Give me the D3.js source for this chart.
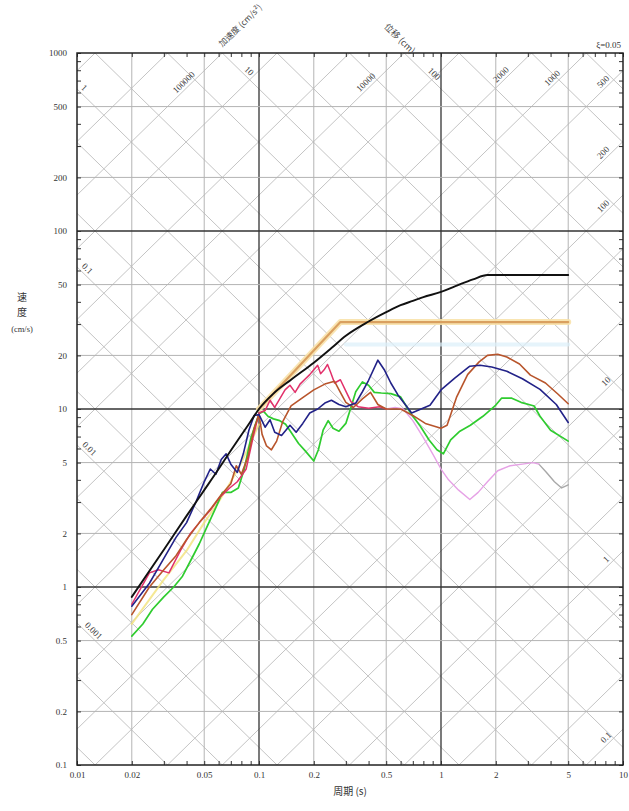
<!DOCTYPE html>
<html>
<head>
<meta charset="utf-8">
<script src="https://cdn.jsdelivr.net/npm/d3@7"></script>
<style>
  body { margin: 0; background: #fff; }
  svg { display: block; }
</style>
</head>
<body>
<svg id="chart" width="629" height="811"></svg>
<script>
// ---- axis ticks ----
const periodTicks  = [0.01, 0.02, 0.05, 0.1, 0.2, 0.5, 1, 2, 5, 10];
const periodLabels = ["0.01", "0.02", "0.05", "0.1", "0.2", "0.5", "1", "2", "5", "10"];
const velocityTicks  = [0.1, 0.2, 0.5, 1, 2, 5, 10, 20, 50, 100, 200, 500, 1000];
const velocityLabels = ["0.1", "0.2", "0.5", "1", "2", "5", "10", "20", "50", "100", "200", "500", "1000"];

// ---- tripartite guide lines ----
const accelLines = [0.1, 0.2, 0.5, 1, 2, 5, 10, 20, 50, 100, 200, 500, 1000, 2000, 5000,
                    10000, 20000, 50000, 100000, 200000, 500000];          // cm/s²
const dispLines  = [0.0002, 0.0005, 0.001, 0.002, 0.005, 0.01, 0.02, 0.05, 0.1, 0.2, 0.5,
                    1, 2, 5, 10, 20, 50, 100, 200, 500, 1000];              // cm
const accelLabels = [
  { v: 100000, t: 0.0407, text: "100000" }, { v: 10000, t: 0.407, text: "10000" },
  { v: 2000, t: 2.25, text: "2000" }, { v: 1000, t: 4.3, text: "1000" },
  { v: 500, t: 8.2, text: "500" }, { v: 200, t: 8.2, text: "200" },
  { v: 100, t: 8.2, text: "100" }, { v: 10, t: 8.5, text: "10" },
  { v: 1, t: 8.5, text: "1" }, { v: 0.1, t: 8.5, text: "0.1" }
];
const dispLabels = [
  { v: 1, t: 0.0104, text: "1" }, { v: 0.1, t: 0.0108, text: "0.1" },
  { v: 0.01, t: 0.0111, text: "0.01" }, { v: 0.001, t: 0.0117, text: "0.001" },
  { v: 10, t: 0.0837, text: "10" }, { v: 100, t: 0.87, text: "100" }
];

// ---- spectra: [period (s), pseudo velocity (cm/s)] ----
const envelope = [[0.02,0.88],[0.03,1.62],[0.04,2.51],[0.05,3.5],[0.06,4.6],[0.07,5.84],[0.08,7.14],
  [0.09,8.53],[0.1,10],[0.12,12.2],[0.15,14.6],[0.2,18.2],[0.25,22],[0.3,25.8],[0.4,31],[0.5,35],
  [0.6,38.3],[0.7,40.5],[0.8,42.5],[1.0,45.5],[1.2,49],[1.5,53.5],[1.8,56.6],[5,56.6]];
const designLine = [[0.1,10],[0.28,30.8],[5,30.8]];
const paleYellow = [[0.02,0.62],[0.03,1.1],[0.04,1.6],[0.05,2.3],[0.06,3.0],[0.07,3.9],[0.08,5.0],[0.09,6.5],[0.1,8.2]];
const paleCyan = [[0.3,23],[5,23]];
const blueRec = [[0.02,0.78],[0.025,1.05],[0.03,1.45],[0.035,1.9],[0.04,2.3],[0.045,3.0],[0.05,3.9],
  [0.054,4.6],[0.058,4.3],[0.062,5.2],[0.066,5.6],[0.07,4.9],[0.076,4.4],[0.082,5.6],[0.088,7.6],
  [0.094,9.2],[0.1,9.3],[0.108,7.9],[0.115,8.7],[0.122,7.4],[0.133,7.1],[0.148,8.1],[0.16,7.4],
  [0.174,8.3],[0.19,9.5],[0.21,10],[0.23,10.8],[0.25,11.2],[0.275,10.6],[0.3,10.3],[0.34,10.8],
  [0.37,12.5],[0.4,14.5],[0.45,18.8],[0.49,16.5],[0.53,14],[0.58,12],[0.64,10.5],[0.69,9.5],
  [0.76,9.9],[0.87,10.5],[1.0,12.8],[1.19,14.9],[1.44,17.4],[1.64,17.6],[1.9,17.2],[2.3,16.3],
  [2.8,14.8],[3.5,12.9],[4.3,10.6],[5.0,8.4]];
const greenRec = [[0.02,0.53],[0.023,0.62],[0.026,0.75],[0.03,0.88],[0.034,1.0],[0.038,1.15],
  [0.042,1.4],[0.047,1.75],[0.052,2.2],[0.058,2.8],[0.063,3.4],[0.07,3.4],[0.077,3.6],[0.083,4.6],
  [0.09,6.8],[0.1,9.4],[0.106,9.7],[0.112,9.1],[0.12,8.8],[0.13,8.6],[0.14,8.2],[0.15,7.4],
  [0.165,6.4],[0.18,5.8],[0.2,5.1],[0.212,5.9],[0.225,7.6],[0.24,8.6],[0.255,7.8],[0.275,7.5],
  [0.3,8.3],[0.32,10.2],[0.34,12.5],[0.37,14.2],[0.4,13.6],[0.43,12.4],[0.47,12.3],[0.53,12.2],
  [0.6,11.7],[0.68,9.5],[0.77,8.0],[0.86,6.7],[0.95,5.9],[1.03,5.6],[1.13,6.7],[1.27,7.5],
  [1.45,8.1],[1.7,9.1],[1.98,10.4],[2.15,11.5],[2.45,11.5],[2.75,10.9],[3.25,10.4],[3.5,9.1],
  [4.0,7.6],[5.0,6.6]];
const brownRec = [[0.02,0.7],[0.025,1.0],[0.03,1.25],[0.035,1.5],[0.04,1.85],[0.047,2.3],[0.055,2.8],
  [0.062,3.3],[0.07,3.8],[0.075,4.8],[0.08,4.3],[0.087,5.4],[0.094,7.8],[0.1,9.3],[0.104,7.2],
  [0.11,6.2],[0.117,5.9],[0.125,6.6],[0.135,8.5],[0.15,10.4],[0.17,11.4],[0.2,12.8],[0.23,13.8],
  [0.26,14.3],[0.28,12.4],[0.3,10.9],[0.33,10.2],[0.37,11.4],[0.41,12.4],[0.45,10.6],[0.5,10],
  [0.6,10],[0.7,9.2],[0.82,8.3],[1.0,7.8],[1.08,8.1],[1.22,11.7],[1.4,15.6],[1.62,18.4],[1.8,20],
  [2.05,20.3],[2.3,19.6],[2.7,17.9],[3.1,15.5],[3.75,14],[4.4,12.1],[5.0,10.7]];
const redRec = [[0.02,0.8],[0.022,0.95],[0.025,1.2],[0.028,1.25],[0.032,1.2],[0.037,1.6],[0.042,2.0],
  [0.047,2.3],[0.054,2.7],[0.061,3.2],[0.069,3.6],[0.076,3.9],[0.085,4.6],[0.093,7.0],[0.1,9.5],
  [0.108,9.8],[0.115,11.2],[0.122,10.2],[0.13,11.4],[0.139,12.8],[0.148,13.6],[0.158,12.4],
  [0.168,13.8],[0.18,14.8],[0.19,15.6],[0.2,16.6],[0.21,17.6],[0.218,15.8],[0.228,16.6],
  [0.238,17.8],[0.248,16],[0.26,14],[0.28,14.6],[0.3,12.6],[0.32,11],[0.35,10.3],[0.4,10.1],
  [0.46,10.3],[0.5,10]];
const pinkRec = [[0.5,10],[0.56,10.2],[0.62,10],[0.7,8.6],[0.8,6.9],[0.9,5.6],[1.0,4.6],[1.1,4.0],
  [1.25,3.5],[1.44,3.1],[1.6,3.4],[1.8,3.9],[2.05,4.5],[2.4,4.8],[2.8,4.9],[3.2,5.0],[3.45,4.9]];
const grayRec = [[3.45,4.9],[3.8,4.4],[4.2,3.9],[4.6,3.6],[5.0,3.75]];

// ---- layout ----
const svg = d3.select("#chart");
const L = 77, R = 623, T = 53, B = 765;
const x = d3.scaleLog().domain([0.01, 10]).range([L, R]);
const y = d3.scaleLog().domain([0.1, 1000]).range([B, T]);
const ang = Math.atan2(y(1) - y(10), x(10) - x(1)) * 180 / Math.PI;
const TWO_PI = 2 * Math.PI;
const numFont = "'Liberation Serif', 'DejaVu Serif', serif";
const cjkFont = "'Noto Sans CJK SC', sans-serif";

svg.append("defs").append("clipPath").attr("id", "plotArea")
  .append("rect").attr("x", L).attr("y", T).attr("width", R - L).attr("height", B - T);

// diagonal lines: constant acceleration (V = A·T/2π) and constant displacement (V = 2π·D/T)
const diag = svg.append("g").attr("clip-path", "url(#plotArea)")
  .attr("stroke", "#c4c4c4").attr("stroke-width", 1);
accelLines.forEach(a => {
  diag.append("line")
    .attr("x1", x(0.001)).attr("y1", y(a * 0.001 / TWO_PI))
    .attr("x2", x(100)).attr("y2", y(a * 100 / TWO_PI));
});
dispLines.forEach(dv => {
  diag.append("line")
    .attr("x1", x(0.001)).attr("y1", y(TWO_PI * dv / 0.001))
    .attr("x2", x(100)).attr("y2", y(TWO_PI * dv / 100));
});

// rectangular grid
const isDecade = v => Math.abs(Math.log10(v) - Math.round(Math.log10(v))) < 1e-9;
const grid = svg.append("g");
periodTicks.slice(1, -1).forEach(t => {
  grid.append("line").attr("x1", x(t)).attr("x2", x(t)).attr("y1", T).attr("y2", B)
    .attr("stroke", isDecade(t) ? "#333" : "#b4b4b4")
    .attr("stroke-width", isDecade(t) ? 1.3 : 1);
});
velocityTicks.slice(1, -1).forEach(v => {
  grid.append("line").attr("y1", y(v)).attr("y2", y(v)).attr("x1", L).attr("x2", R)
    .attr("stroke", isDecade(v) ? "#333" : "#b4b4b4")
    .attr("stroke-width", isDecade(v) ? 1.3 : 1);
});

// minor ticks on all four sides
const minor = (sel) => sel.call(g => g.select(".domain").remove())
  .selectAll("line").attr("stroke", "#333");
svg.append("g").attr("transform", `translate(0,${B})`)
  .call(d3.axisBottom(x).tickValues(x.ticks()).tickSize(-4).tickFormat("")).call(minor);
svg.append("g").attr("transform", `translate(0,${T})`)
  .call(d3.axisTop(x).tickValues(x.ticks()).tickSize(-4).tickFormat("")).call(minor);
svg.append("g").attr("transform", `translate(${L},0)`)
  .call(d3.axisLeft(y).tickValues(y.ticks()).tickSize(-4).tickFormat("")).call(minor);
svg.append("g").attr("transform", `translate(${R},0)`)
  .call(d3.axisRight(y).tickValues(y.ticks()).tickSize(-4).tickFormat("")).call(minor);

// tick labels
const xAxis = svg.append("g").attr("transform", `translate(0,${B})`)
  .call(d3.axisBottom(x).tickValues(periodTicks).tickSize(0).tickPadding(7)
    .tickFormat((d, i) => periodLabels[i]));
const yAxis = svg.append("g").attr("transform", `translate(${L},0)`)
  .call(d3.axisLeft(y).tickValues(velocityTicks).tickSize(0).tickPadding(10)
    .tickFormat((d, i) => velocityLabels[i]));
[xAxis, yAxis].forEach(g => {
  g.select(".domain").remove();
  g.selectAll("text").attr("font-family", numFont).attr("font-size", 9).attr("fill", "#333");
});

// frame
svg.append("rect").attr("x", L).attr("y", T).attr("width", R - L).attr("height", B - T)
  .attr("fill", "none").attr("stroke", "#222").attr("stroke-width", 1.5);

// spectra
const line = d3.line().x(d => x(d[0])).y(d => y(d[1]));
const curves = svg.append("g").attr("clip-path", "url(#plotArea)").attr("fill", "none")
  .attr("stroke-linejoin", "round").attr("stroke-linecap", "round");
const draw = (data, color, width, opacity = 1, curve = d3.curveLinear) =>
  curves.append("path").datum(data).attr("d", line.curve(curve))
    .attr("stroke", color).attr("stroke-width", width).attr("stroke-opacity", opacity);

draw(paleCyan, "#dcf0f9", 4, 0.7);
draw(designLine, "#f8e2aa", 6, 0.9);
draw(designLine, "#d9a060", 2.2);
draw(paleYellow, "#f2e27a", 2, 0.8);
draw(grayRec, "#a8a8a8", 1.4);
draw(pinkRec, "#e6a2e6", 1.4);
draw(greenRec, "#2fcc2f", 1.7);
draw(redRec, "#e2306a", 1.5);
draw(brownRec, "#b8552c", 1.6);
draw(blueRec, "#222288", 1.6);
draw(envelope, "#111", 1.9, 1, d3.curveMonotoneX);

// labels along the guide lines
const labels = svg.append("g").attr("font-family", numFont).attr("font-size", 9)
  .attr("fill", "#444").attr("text-anchor", "middle");
accelLabels.forEach(d => {
  const px = x(d.t), py = y(d.v * d.t / TWO_PI);
  labels.append("text").attr("transform", `translate(${px},${py}) rotate(${-ang})`)
    .attr("dy", -3).text(d.text);
});
dispLabels.forEach(d => {
  const px = x(d.t), py = y(TWO_PI * d.v / d.t);
  labels.append("text").attr("transform", `translate(${px},${py}) rotate(${ang})`)
    .attr("dy", -3).text(d.text);
});

// guide-line titles
{
  const ta = 0.084, px = x(ta), py = y(100000 * ta / TWO_PI);
  svg.append("text").attr("transform", `translate(${px},${py}) rotate(${-ang})`)
    .attr("dy", -4).attr("text-anchor", "middle").attr("font-family", cjkFont)
    .attr("font-size", 8.5).attr("fill", "#444").text("加速度 (cm/s²)");
}
{
  const td = 0.557, px = x(td), py = y(TWO_PI * 100 / td);
  svg.append("text").attr("transform", `translate(${px},${py}) rotate(${ang})`)
    .attr("dy", -4).attr("text-anchor", "middle").attr("font-family", cjkFont)
    .attr("font-size", 9).attr("fill", "#444").text("位移 (cm)");
}

// damping note
svg.append("text").attr("x", 621).attr("y", 48).attr("text-anchor", "end")
  .attr("font-family", numFont).attr("font-size", 9).attr("fill", "#333").text("ξ=0.05");

// axis titles
const yTitle = svg.append("g").attr("font-family", cjkFont).attr("fill", "#333")
  .attr("text-anchor", "middle");
yTitle.append("text").attr("x", 22).attr("y", 301).attr("font-size", 10).text("速");
yTitle.append("text").attr("x", 22).attr("y", 316).attr("font-size", 10).text("度");
yTitle.append("text").attr("x", 22).attr("y", 332).attr("font-size", 8.5)
  .attr("font-family", numFont).text("(cm/s)");
svg.append("text").attr("x", 350).attr("y", 795).attr("text-anchor", "middle")
  .attr("font-family", cjkFont).attr("font-size", 10).attr("fill", "#333").text("周期 (s)");
</script>
</body>
</html>
